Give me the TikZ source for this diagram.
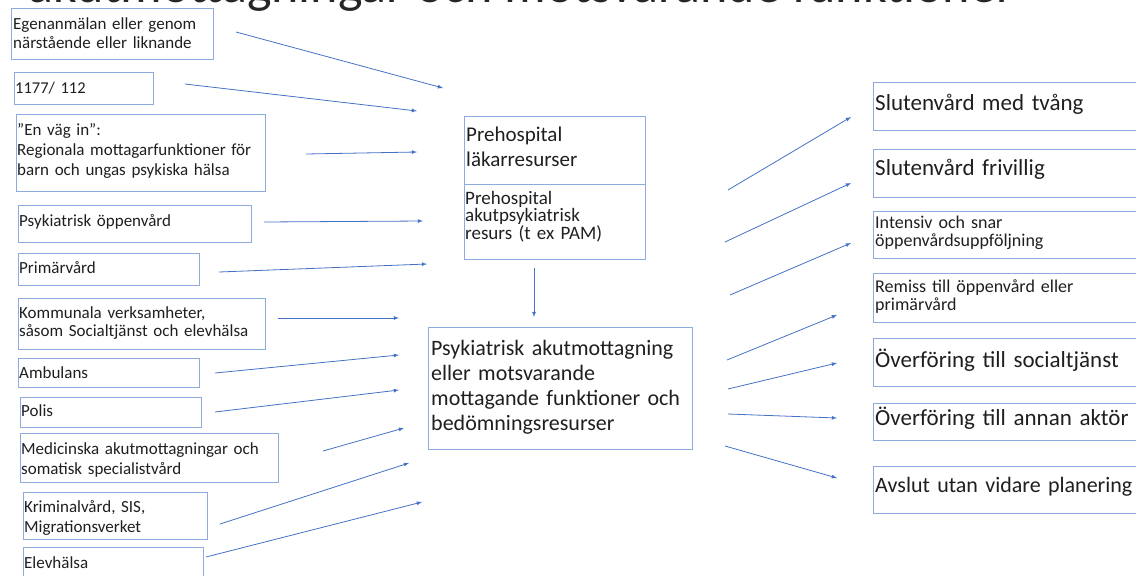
\documentclass[tikz,border=0pt]{standalone}
\usepackage{fontspec}
\setmainfont{Carlito}
\usepackage{tikz}
\usetikzlibrary{arrows,shapes}
\definecolor{boxline}{RGB}{143,170,220}
\definecolor{arrowblue}{RGB}{68,114,196}
\tikzstyle{box} = [draw=boxline, line width=0.9pt, rectangle, anchor=north west,
    inner sep=0pt]
\tikzstyle{txt} = [anchor=base west, inner sep=0pt, align=left, text=black!88]
\tikzstyle{arr} = [-latex, draw=arrowblue, line width=0.8pt]
\newcommand{\fsz}[2]{\fontsize{#1}{#2}\selectfont}

\begin{document}
\begin{tikzpicture}[x=1pt, y=-1pt]
  \useasboundingbox (0,0) rectangle (1136,576);
  \clip (0,0) rectangle (1136,576);
  % title, cut off at the top
  \node [anchor=base west, inner sep=0pt, text=black!85, font=\fsz{52}{60}] (title) at (28,2) {akutmottagningar och motsvarande funktioner};

  % left column
  \node [box, minimum width=202, minimum height=51] (egen) at (11,8) {};
  \node [txt, text width=198, font=\fsz{17}{19}] (egent) at (13,29) {Egenanmälan eller genom\\närstående eller liknande};
  \node [box, minimum width=139, minimum height=32] (nr) at (14,72) {};
  \node [txt, text width=135, font=\fsz{16.5}{19}] (nrt) at (15,93) {1177/ 112};
  \node [box, minimum width=249, minimum height=77] (envag) at (16,114) {};
  \node [txt, text width=245, font=\fsz{17}{20}] (envagt) at (17,135) {”En väg in”:\\Regionala mottagarfunktioner för\\barn och ungas psykiska hälsa};
  \node [box, minimum width=233, minimum height=37] (psyk) at (18,205) {};
  \node [txt, text width=229, font=\fsz{17}{19}] (psykt) at (19,226) {Psykiatrisk öppenvård};
  \node [box, minimum width=181, minimum height=32] (prim) at (18,253) {};
  \node [txt, text width=177, font=\fsz{17}{19}] (primt) at (19,273) {Primärvård};
  \node [box, minimum width=247, minimum height=51] (komm) at (18,298) {};
  \node [txt, text width=243, font=\fsz{17}{18}] (kommt) at (19,318) {Kommunala verksamheter,\\såsom Socialtjänst och elevhälsa};
  \node [box, minimum width=181, minimum height=29] (ambu) at (18,358) {};
  \node [txt, text width=177, font=\fsz{17}{19}] (ambut) at (19,378) {Ambulans};
  \node [box, minimum width=181, minimum height=30] (polis) at (20,397) {};
  \node [txt, text width=177, font=\fsz{17}{19}] (polist) at (21,416) {Polis};
  \node [box, minimum width=258, minimum height=49] (medi) at (20,433) {};
  \node [txt, text width=254, font=\fsz{17}{20}] (medit) at (21,454) {Medicinska akutmottagningar och\\somatisk specialistvård};
  \node [box, minimum width=184, minimum height=47] (krim) at (23,492) {};
  \node [txt, text width=180, font=\fsz{17}{20}] (krimt) at (24,512) {Kriminalvård, SIS,\\Migrationsverket};
  \node [box, minimum width=180, minimum height=43] (elev) at (23,547) {};
  \node [txt, text width=176, font=\fsz{17}{19}] (elevt) at (24,568) {Elevhälsa};

  % middle column
  \node [box, minimum width=181, minimum height=68] (prelak) at (464,116) {};
  \node [txt, text width=177, font=\fsz{21}{25}] (prelakt) at (466,141) {Prehospital\\läkarresurser};
  \node [box, minimum width=181, minimum height=75] (prepam) at (464,184) {};
  \node [txt, text width=177, font=\fsz{19}{16}] (prepamt) at (465,204.5) {Prehospital\\akutpsykiatrisk\\resurs (t ex PAM)};
  \node [box, minimum width=264, minimum height=122] (akut) at (428,327) {};
  \node [txt, text width=260, font=\fsz{22}{25}] (akutt) at (431,355) {Psykiatrisk akutmottagning\\eller motsvarande\\mottagande funktioner och\\bedömningsresurser};

  % right column
  \node [box, minimum width=300, minimum height=48] (tvang) at (873,82) {};
  \node [txt, text width=290, font=\fsz{23}{26}] (tvangt) at (875,110) {Slutenvård med tvång};
  \node [box, minimum width=300, minimum height=48] (friv) at (873,149) {};
  \node [txt, text width=290, font=\fsz{23}{26}] (frivt) at (875,175) {Slutenvård frivillig};
  \node [box, minimum width=300, minimum height=47] (inte) at (873,211) {};
  \node [txt, text width=290, font=\fsz{18}{18}] (intet) at (875,228.5) {Intensiv och snar\\öppenvårdsuppföljning};
  \node [box, minimum width=300, minimum height=49] (remi) at (873,273) {};
  \node [txt, text width=290, font=\fsz{18}{18}] (remit) at (875,292.5) {Remiss till öppenvård eller\\primärvård};
  \node [box, minimum width=300, minimum height=48] (soc) at (873,338) {};
  \node [txt, text width=290, font=\fsz{23}{26}] (soct) at (875,367) {Överföring till socialtjänst};
  \node [box, minimum width=300, minimum height=37] (anna) at (873,403) {};
  \node [txt, text width=290, font=\fsz{23}{26}] (annat) at (875,425) {Överföring till annan aktör};
  \node [box, minimum width=300, minimum height=47] (avsl) at (873,466) {};
  \node [txt, text width=290, font=\fsz{22}{26}] (avslt) at (875,492) {Avslut utan vidare planering};

  % free arrow ends
  \coordinate (egenout) at (236,32);  \coordinate (egenin) at (443,88);
  \coordinate (nrout) at (185,84);    \coordinate (nrin) at (417,111);
  \coordinate (envagout) at (306,154); \coordinate (envagin) at (417,152);
  \coordinate (psykout) at (264,222); \coordinate (psykin) at (423,221);
  \coordinate (primout) at (219,272); \coordinate (primin) at (427,264);
  \coordinate (kommout) at (278,318); \coordinate (kommin) at (399,318);
  \coordinate (ambuout) at (215,373); \coordinate (ambuin) at (399,355);
  \coordinate (polisout) at (215,412); \coordinate (polisin) at (399,390);
  \coordinate (medout) at (323,451);  \coordinate (medin) at (404,428);
  \coordinate (krimout) at (220,524); \coordinate (krimin) at (409,463);
  \coordinate (elevout) at (206,557); \coordinate (elevin) at (422,502);
  \coordinate (preout) at (534,268);  \coordinate (prein) at (534,317);
  \coordinate (tvangout) at (728,190); \coordinate (tvangin) at (851,117);
  \coordinate (frivout) at (725,242); \coordinate (frivin) at (851,183);
  \coordinate (inteout) at (730,295); \coordinate (intein) at (851,243);
  \coordinate (remiout) at (727,360); \coordinate (remiin) at (837,315);
  \coordinate (socout) at (728,389);  \coordinate (socin) at (837,363);
  \coordinate (annaout) at (728,414); \coordinate (annain) at (837,418);
  \coordinate (avslout) at (725,446); \coordinate (avslin) at (837,478);

  \draw [arr] (egenout) -- (egenin);
  \draw [arr] (nrout) -- (nrin);
  \draw [arr] (envagout) -- (envagin);
  \draw [arr] (psykout) -- (psykin);
  \draw [arr] (primout) -- (primin);
  \draw [arr] (kommout) -- (kommin);
  \draw [arr] (ambuout) -- (ambuin);
  \draw [arr] (polisout) -- (polisin);
  \draw [arr] (medout) -- (medin);
  \draw [arr] (krimout) -- (krimin);
  \draw [arr] (elevout) -- (elevin);
  \draw [arr] (preout) -- (prein);
  \draw [arr] (tvangout) -- (tvangin);
  \draw [arr] (frivout) -- (frivin);
  \draw [arr] (inteout) -- (intein);
  \draw [arr] (remiout) -- (remiin);
  \draw [arr] (socout) -- (socin);
  \draw [arr] (annaout) -- (annain);
  \draw [arr] (avslout) -- (avslin);
\end{tikzpicture}
\end{document}
